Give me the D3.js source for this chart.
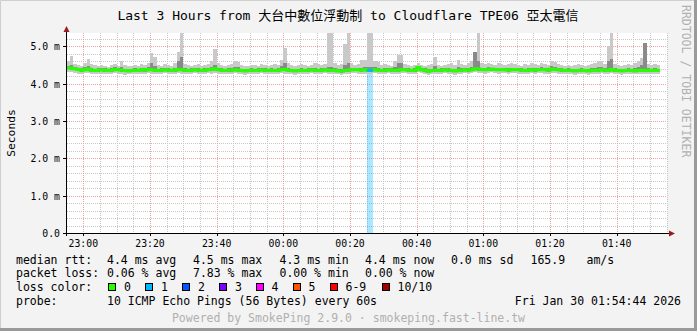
<!DOCTYPE html>
<html><head><meta charset="utf-8">
<script src="https://cdn.jsdelivr.net/npm/d3@7"></script>
<style>
html,body{margin:0;padding:0;background:#f3f3f3;}
svg{display:block;}
text{font-family:"DejaVu Sans Mono","Noto Sans CJK TC",monospace;}
</style>
</head><body>
<svg id="c" width="697" height="331"></svg>
<script>
// ---- data (one slot per minute, first slot starts 22:55 UTC-like clock) ----
const titleText = "Last 3 Hours from 大台中數位浮動制 to Cloudflare TPE06 亞太電信";
const firstSlot = "2026-01-29T22:55:00Z";
const viewStart = "2026-01-29T22:55:06Z";
const viewEnd   = "2026-01-30T01:55:06Z";
const yMax = 5.355;
const yTicks = [0, 1, 2, 3, 4, 5];

const median = [
4.42,4.41,4.40,4.38,4.36,4.37,4.39,4.36,4.35,4.36,
4.37,4.36,4.35,4.36,4.38,4.37,4.36,4.35,4.34,4.35,
4.36,4.35,4.37,4.36,4.38,4.37,4.36,4.35,4.36,4.37,
4.36,4.35,4.36,4.38,4.37,4.36,4.35,4.36,4.37,4.36,
4.35,4.36,4.37,4.38,4.40,4.37,4.36,4.35,4.36,4.36,
4.37,4.36,4.35,4.34,4.35,4.36,4.35,4.36,4.37,4.36,
4.35,4.36,4.35,4.36,4.37,4.38,4.36,4.35,4.34,4.35,
4.36,4.35,4.36,4.37,4.36,4.35,4.36,4.37,4.36,4.35,
4.36,4.34,4.33,4.35,4.36,4.37,4.38,4.37,4.36,4.37,
4.35,4.36,4.37,4.36,4.35,4.36,4.37,4.36,4.35,4.36,
4.38,4.37,4.36,4.35,4.36,4.43,4.37,4.36,4.33,4.35,
4.36,4.35,4.36,4.37,4.36,4.35,4.34,4.35,4.36,4.37,
4.36,4.37,4.40,4.39,4.38,4.37,4.38,4.39,4.38,4.37,
4.38,4.37,4.36,4.37,4.38,4.37,4.36,4.35,4.36,4.37,
4.36,4.37,4.38,4.37,4.36,4.39,4.38,4.37,4.36,4.35,
4.36,4.35,4.34,4.35,4.36,4.35,4.34,4.36,4.35,4.36,
4.37,4.36,4.35,4.38,4.36,4.35,4.34,4.35,4.36,4.35,
4.34,4.35,4.36,4.35,4.36,4.35,4.36,4.35];

const pingMax = [
4.60,4.75,4.52,4.50,4.48,4.55,4.65,4.52,4.50,4.48,
4.50,4.47,4.45,4.50,4.52,4.48,4.60,4.50,4.47,4.46,
4.50,4.48,4.52,4.50,4.55,4.82,4.70,4.50,4.48,4.52,
4.50,4.48,4.55,4.85,5.60,4.52,4.50,4.48,4.50,4.52,
4.48,4.50,4.52,4.60,4.93,4.55,4.50,4.48,4.50,4.52,
4.60,4.58,4.50,4.48,4.47,4.50,4.49,4.48,4.52,4.50,
4.48,4.50,4.52,4.50,4.63,4.96,4.55,4.50,4.48,4.50,
4.52,4.50,4.48,4.50,4.55,4.52,4.50,4.52,5.60,5.60,
4.55,4.50,4.52,5.07,5.60,4.55,4.50,4.52,4.62,4.62,
5.60,5.60,4.60,4.58,4.50,4.52,4.50,4.48,4.60,4.76,
4.76,4.52,4.50,4.48,4.50,4.55,4.50,4.48,4.50,4.52,
4.71,4.50,4.48,4.50,4.52,4.55,4.50,4.63,4.52,4.50,
4.55,4.60,4.85,5.60,4.55,4.52,4.55,4.52,4.50,4.55,
4.52,4.50,4.52,4.55,4.52,4.50,4.48,4.52,4.50,4.55,
4.52,4.50,4.55,4.52,4.50,4.60,4.58,4.52,4.50,4.48,
4.50,4.48,4.50,4.52,4.50,4.48,4.50,4.52,4.55,4.60,
4.60,4.52,5.00,5.60,4.52,4.50,4.48,4.50,4.52,4.50,
4.55,4.60,4.68,5.10,4.52,4.50,4.52,4.50];

const pingMin = [
4.30,4.31,4.29,4.27,4.26,4.28,4.28,4.27,4.25,4.27,
4.27,4.26,4.25,4.27,4.28,4.27,4.26,4.24,4.25,4.26,
4.27,4.26,4.27,4.26,4.28,4.27,4.25,4.26,4.27,4.28,
4.26,4.25,4.27,4.28,4.27,4.26,4.25,4.27,4.28,4.26,
4.25,4.27,4.28,4.27,4.29,4.27,4.26,4.25,4.27,4.26,
4.28,4.26,4.25,4.24,4.26,4.27,4.25,4.26,4.28,4.27,
4.26,4.27,4.25,4.27,4.28,4.27,4.26,4.25,4.24,4.26,
4.27,4.25,4.26,4.28,4.27,4.25,4.26,4.28,4.27,4.26,
4.27,4.25,4.23,4.26,4.27,4.28,4.29,4.27,4.26,4.27,
4.26,4.27,4.28,4.26,4.25,4.27,4.28,4.26,4.25,4.27,
4.29,4.28,4.26,4.25,4.27,4.30,4.28,4.26,4.24,4.25,
4.27,4.26,4.27,4.28,4.26,4.25,4.24,4.26,4.27,4.28,
4.27,4.28,4.30,4.29,4.28,4.27,4.29,4.30,4.28,4.27,
4.29,4.28,4.27,4.28,4.29,4.27,4.26,4.25,4.27,4.28,
4.27,4.28,4.29,4.27,4.26,4.29,4.28,4.27,4.26,4.25,
4.27,4.26,4.24,4.26,4.27,4.25,4.24,4.26,4.25,4.27,
4.28,4.27,4.26,4.28,4.27,4.25,4.24,4.26,4.27,4.26,
4.25,4.26,4.27,4.25,4.27,4.26,4.27,4.26];

const innerLow = [
4.38,4.37,4.36,4.34,4.32,4.33,4.35,4.32,4.31,4.32,
4.33,4.32,4.31,4.32,4.34,4.33,4.32,4.30,4.30,4.31,
4.32,4.31,4.33,4.32,4.34,4.33,4.32,4.31,4.32,4.33,
4.32,4.31,4.32,4.34,4.33,4.32,4.31,4.32,4.33,4.32,
4.31,4.32,4.33,4.34,4.36,4.33,4.32,4.31,4.32,4.32,
4.33,4.32,4.31,4.30,4.31,4.32,4.31,4.32,4.33,4.32,
4.31,4.32,4.31,4.32,4.33,4.34,4.32,4.31,4.30,4.31,
4.32,4.31,4.32,4.33,4.32,4.31,4.32,4.33,4.32,4.31,
4.32,4.30,4.29,4.31,4.32,4.33,4.34,4.33,4.32,4.33,
4.31,4.32,4.33,4.32,4.31,4.32,4.33,4.32,4.31,4.32,
4.34,4.33,4.32,4.31,4.32,4.39,4.33,4.32,4.29,4.31,
4.32,4.31,4.32,4.33,4.32,4.31,4.30,4.31,4.32,4.33,
4.32,4.33,4.36,4.35,4.34,4.33,4.34,4.35,4.34,4.33,
4.34,4.33,4.32,4.33,4.34,4.33,4.32,4.31,4.32,4.33,
4.32,4.33,4.34,4.33,4.32,4.35,4.34,4.33,4.32,4.31,
4.32,4.31,4.30,4.31,4.32,4.31,4.30,4.32,4.31,4.32,
4.33,4.32,4.31,4.34,4.32,4.31,4.30,4.31,4.32,4.31,
4.30,4.31,4.32,4.31,4.32,4.31,4.32,4.31];

const innerHigh = [
4.47,4.50,4.45,4.43,4.41,4.44,4.46,4.42,4.40,4.41,
4.42,4.41,4.40,4.41,4.44,4.42,4.45,4.40,4.39,4.40,
4.41,4.40,4.43,4.41,4.44,4.55,4.48,4.40,4.41,4.43,
4.41,4.40,4.42,4.60,4.70,4.42,4.40,4.41,4.42,4.43,
4.40,4.41,4.43,4.45,4.50,4.43,4.41,4.40,4.41,4.42,
4.45,4.44,4.40,4.39,4.40,4.41,4.40,4.41,4.43,4.41,
4.40,4.41,4.40,4.41,4.46,4.55,4.42,4.40,4.39,4.40,
4.42,4.40,4.41,4.42,4.43,4.40,4.41,4.43,4.45,4.44,
4.42,4.39,4.38,4.50,4.55,4.42,4.43,4.42,4.43,4.45,
4.45,4.44,4.45,4.43,4.40,4.41,4.42,4.41,4.45,4.55,
4.55,4.42,4.41,4.40,4.41,4.48,4.42,4.41,4.38,4.40,
4.48,4.40,4.41,4.42,4.41,4.40,4.39,4.45,4.41,4.42,
4.42,4.45,4.85,4.60,4.43,4.42,4.44,4.43,4.43,4.42,
4.43,4.42,4.41,4.43,4.43,4.42,4.41,4.40,4.41,4.43,
4.41,4.42,4.44,4.42,4.41,4.48,4.45,4.42,4.41,4.40,
4.41,4.40,4.39,4.40,4.41,4.40,4.39,4.41,4.42,4.45,
4.45,4.41,4.60,4.65,4.41,4.40,4.39,4.40,4.41,4.40,
4.42,4.45,4.50,5.08,4.41,4.40,4.41,4.40];

const lossCount = [
0,0,0,0,0,0,0,0,0,0, 0,0,0,0,0,0,0,0,0,0,
0,0,0,0,0,0,0,0,0,0, 0,0,0,0,0,0,0,0,0,0,
0,0,0,0,0,0,0,0,0,0, 0,0,0,0,0,0,0,0,0,0,
0,0,0,0,0,0,0,0,0,0, 0,0,0,0,0,0,0,0,0,0,
0,0,0,0,0,0,0,0,0,0, 1,1,0,0,0,0,0,0,0,0,
0,0,0,0,0,0,0,0,0,0, 0,0,0,0,0,0,0,0,0,0,
0,0,0,0,0,0,0,0,0,0, 0,0,0,0,0,0,0,0,0,0,
0,0,0,0,0,0,0,0,0,0, 0,0,0,0,0,0,0,0,0,0,
0,0,0,0,0,0,0,0,0,0, 0,0,0,0,0,0,0,0];

const lossLabels = ["0","1","2","3","4","5","6-9","10/10"];
const lossColors = ["#26ff00","#00b8ff","#0059ff","#7e00ff","#ff00ff","#ff5500","#ff0000","#a10000"];

const legendRows = [
  ["median rtt:", ["4.4 ms avg","4.5 ms max","4.3 ms min","4.4 ms now","0.0 ms sd","165.9","am/s"]],
  ["packet loss:", ["0.06 % avg","7.83 % max","0.00 % min","0.00 % now"]]
];
const probeText = "10 ICMP Echo Pings (56 Bytes) every 60s";
const dateText = "Fri Jan 30 01:54:44 2026";
const footerText = "Powered by SmokePing 2.9.0 · smokeping.fast-line.tw";
const watermark = "RRDTOOL / TOBI OETIKER";

// ---- layout ----
const W = 697, H = 331;
const P = {l: 67, r: 667, t: 33, b: 233};
const svg = d3.select("#c");

const x = d3.scaleUtc().domain([new Date(viewStart), new Date(viewEnd)]).range([P.l, P.r]);
const y = d3.scaleLinear().domain([0, yMax]).range([P.b, P.t]);

const t0 = new Date(firstSlot).getTime();
const slots = median.map((m, i) => ({
  i, a: new Date(t0 + i * 60000), b: new Date(t0 + (i + 1) * 60000),
  med: m, max: pingMax[i], min: pingMin[i], lo: innerLow[i], hi: innerHigh[i], loss: lossCount[i]
}));

function lossIndex(n) { if (n <= 5) return n; if (n < 10) return 6; return 7; }

// background & frame
svg.append("rect").attr("width", W).attr("height", H).attr("fill", "#f3f3f3");
svg.append("path").attr("d", `M0.5,${H} V0.5 H${W}`).attr("stroke", "#cfcfcf").attr("fill", "none").attr("stroke-width", 1);
svg.append("path").attr("d", `M0,${H - 1.5} H${W - 1.5} V0`).attr("stroke", "#9a9a9a").attr("fill", "none").attr("stroke-width", 3);

// plot bg
svg.append("rect").attr("x", P.l).attr("y", P.t).attr("width", P.r - P.l).attr("height", P.b - P.t).attr("fill", "#ffffff");

const clip = svg.append("clipPath").attr("id", "pc").append("rect")
  .attr("x", P.l).attr("y", P.t).attr("width", P.r - P.l).attr("height", P.b - P.t);

// grid
const grid = svg.append("g").attr("shape-rendering", "crispEdges");
const minorV = x.ticks(d3.utcMinute.every(5));
const majorV = x.ticks(d3.utcMinute.every(20));
const majorSet = new Set(majorV.map(d => +d));
minorV.filter(d => !majorSet.has(+d)).forEach(d => {
  const px = Math.round(x(d)) + 0.5;
  grid.append("line").attr("x1", px).attr("x2", px).attr("y1", P.t).attr("y2", P.b)
    .attr("stroke", "#c8c8c8").attr("stroke-dasharray", "1,1");
});
const minorH = d3.range(1, 27).map(k => k * 0.2).filter(v => Math.abs(v - Math.round(v)) > 1e-6 && v < yMax);
minorH.forEach(v => {
  const py = Math.round(y(v)) + 0.5;
  grid.append("line").attr("x1", P.l).attr("x2", P.r).attr("y1", py).attr("y2", py)
    .attr("stroke", "#c8c8c8").attr("stroke-dasharray", "1,1");
});
majorV.forEach(d => {
  const px = Math.round(x(d)) + 0.5;
  grid.append("line").attr("x1", px).attr("x2", px).attr("y1", P.t).attr("y2", P.b)
    .attr("stroke", "#f0a0a0").attr("stroke-dasharray", "1,1");
});
yTicks.filter(v => v > 0).forEach(v => {
  const py = Math.round(y(v)) + 0.5;
  grid.append("line").attr("x1", P.l).attr("x2", P.r).attr("y1", py).attr("y2", py)
    .attr("stroke", "#f0a0a0").attr("stroke-dasharray", "1,1");
});

// data layer
const data = svg.append("g").attr("clip-path", "url(#pc)").attr("shape-rendering", "crispEdges");

// loss background bars
data.selectAll("rect.loss").data(slots.filter(s => s.loss > 0)).join("rect")
  .attr("x", s => x(s.a)).attr("width", s => x(s.b) - x(s.a))
  .attr("y", s => y(s.med)).attr("height", s => y(0) - y(s.med))
  .attr("fill", s => lossColors[lossIndex(s.loss)]).attr("fill-opacity", 0.33);

// smoke: outer
data.selectAll("rect.smoke").data(slots).join("rect")
  .attr("x", s => x(s.a)).attr("width", s => x(s.b) - x(s.a))
  .attr("y", s => y(s.max)).attr("height", s => y(s.min) - y(s.max))
  .attr("fill", "#c9c9c9");
// smoke: inner
data.selectAll("rect.inner").data(slots).join("rect")
  .attr("x", s => x(s.a)).attr("width", s => x(s.b) - x(s.a))
  .attr("y", s => y(s.hi)).attr("height", s => y(s.lo) - y(s.hi))
  .attr("fill", "#8a8a8a");

// median line (step)
const pts = slots.map(s => [x(s.a), y(s.med)]);
pts.push([x(slots[slots.length - 1].b), y(slots[slots.length - 1].med)]);
const stepLine = d3.line().curve(d3.curveStepAfter);
data.append("path").attr("d", stepLine(pts)).attr("fill", "none")
  .attr("stroke", lossColors[0]).attr("stroke-width", 3).attr("shape-rendering", "auto");
slots.filter(s => s.loss > 0).forEach(s => {
  data.append("path").attr("d", stepLine([[x(s.a), y(s.med)], [x(s.b), y(s.med)]]))
    .attr("fill", "none").attr("stroke", lossColors[lossIndex(s.loss)]).attr("stroke-width", 3);
});

// axes
const ax = svg.append("g").attr("shape-rendering", "crispEdges");
ax.append("line").attr("x1", 66.5).attr("x2", 66.5).attr("y1", 236).attr("y2", 30).attr("stroke", "#000");
ax.append("line").attr("x1", 64).attr("x2", 670).attr("y1", 233.5).attr("y2", 233.5).attr("stroke", "#000");
svg.append("path").attr("d", "M63.5,32 L66.5,26 L69.5,32 Z").attr("fill", "#9b1c1c");
svg.append("path").attr("d", "M669,230.5 L675,233.5 L669,236.5 Z").attr("fill", "#9b1c1c");

// ticks
yTicks.forEach(v => {
  const py = Math.round(y(v)) + 0.5;
  ax.append("line").attr("x1", 63).attr("x2", 67).attr("y1", py).attr("y2", py).attr("stroke", "#000");
});
majorV.forEach(d => {
  const px = Math.round(x(d)) + 0.5;
  ax.append("line").attr("x1", px).attr("x2", px).attr("y1", 233).attr("y2", 236).attr("stroke", "#000");
});

// tick labels
const fmtY = v => v === 0 ? "0.0" : v.toFixed(1) + " m";
svg.append("g").selectAll("text").data(yTicks).join("text")
  .attr("x", 60).attr("y", v => y(v) + 4).attr("text-anchor", "end")
  .attr("font-size", "9.8px").attr("fill", "#000").text(fmtY);
const fmtX = d3.utcFormat("%H:%M");
svg.append("g").selectAll("text").data(majorV).join("text")
  .attr("x", d => x(d)).attr("y", 247.3).attr("text-anchor", "middle")
  .attr("font-size", "9.8px").attr("fill", "#000").text(fmtX);

// title
svg.append("text").attr("x", 348).attr("y", 19.5).attr("text-anchor", "middle")
  .attr("font-size", "13px").attr("fill", "#000").text(titleText);

// y label
svg.append("text").attr("transform", "translate(14.5,133) rotate(-90)").attr("text-anchor", "middle")
  .attr("font-size", "11.3px").attr("fill", "#000").text("Seconds");

// watermark
svg.append("text").attr("transform", "translate(681.5,5) rotate(90)").attr("text-anchor", "start")
  .attr("font-size", "11.5px").attr("fill", "#b0b0b0").text(watermark);

// legend
const fs = "11.5px";
const colX = [107, 193, 279.5, 365, 451, 530.5, 586.5];
const rowY = [263.5, 277.3, 291.2, 305];
const leg = svg.append("g").attr("font-size", fs).attr("fill", "#000");
legendRows.forEach((r, ri) => {
  leg.append("text").attr("x", 16).attr("y", rowY[ri]).text(r[0]);
  r[1].forEach((t, ci) => leg.append("text").attr("x", colX[ci]).attr("y", rowY[ri]).text(t));
});
leg.append("text").attr("x", 16).attr("y", rowY[2]).text("loss color:");
const boxX = [108.5, 145.5, 182.5, 219.5, 256, 293, 330, 382];
lossLabels.forEach((lab, k) => {
  leg.append("rect").attr("x", boxX[k]).attr("y", 283.5).attr("width", 7).attr("height", 7)
    .attr("fill", lossColors[k]).attr("stroke", "#000").attr("stroke-width", 1).attr("shape-rendering", "crispEdges");
  leg.append("text").attr("x", boxX[k] + 15.5).attr("y", rowY[2]).text(lab);
});
leg.append("text").attr("x", 16).attr("y", rowY[3]).text("probe:");
leg.append("text").attr("x", 107).attr("y", rowY[3]).text(probeText);
leg.append("text").attr("x", 681).attr("y", rowY[3]).attr("text-anchor", "end").text(dateText);

// footer
svg.append("text").attr("x", 348.5).attr("y", 322).attr("text-anchor", "middle")
  .attr("font-size", fs).attr("fill", "#b0b0b0").text(footerText);
</script>
</body></html>
